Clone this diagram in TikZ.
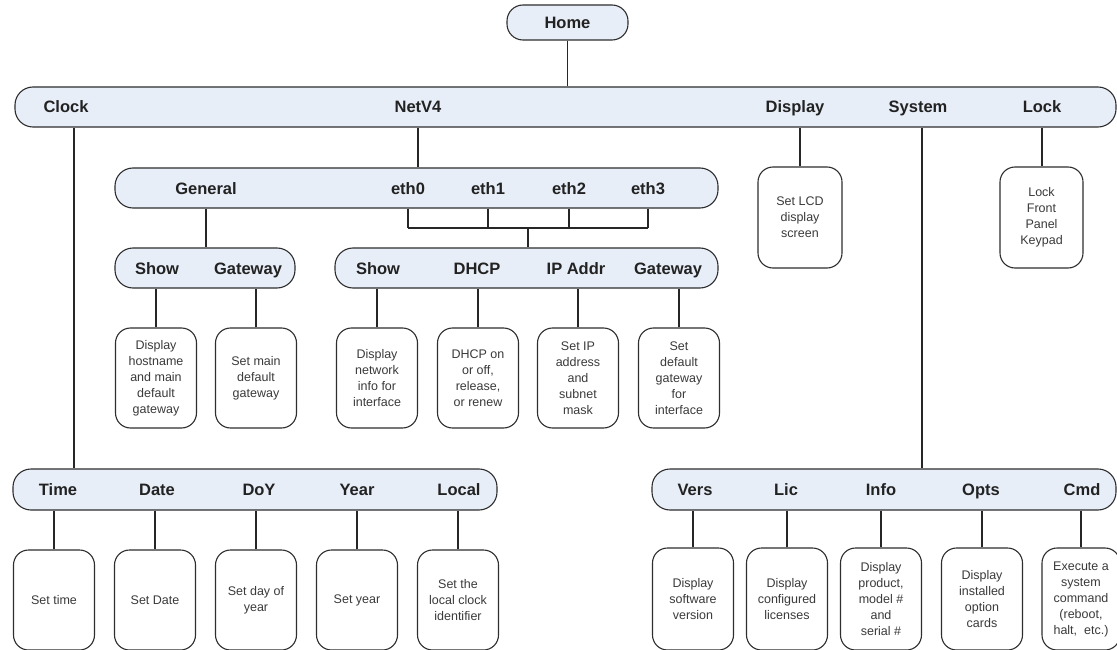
\documentclass[tikz,border=0pt]{standalone}
\usepackage{fontspec}
\setmainfont{Liberation Sans}
\definecolor{barfill}{HTML}{E8EEF8}
\definecolor{linegray}{HTML}{2E2E2E}
\definecolor{labeltext}{HTML}{222222}
\definecolor{leaftext}{HTML}{3A3A3A}
\tikzset{
  bar/.style={draw=linegray, fill=barfill, rounded corners=18pt, line width=1.1pt, inner sep=0pt},
  lbl/.style={font=\fontsize{16.5}{18}\selectfont\bfseries, text=labeltext, inner sep=0pt, anchor=base},
  leaf/.style={draw=linegray, rounded corners=15pt, line width=1.1pt, minimum width=81pt, minimum height=100pt, align=center, font=\fontsize{12.5}{16}\selectfont, text=leaftext, inner sep=2pt},
  conn/.style={draw=black!85, line width=1.1pt},
}
\begin{document}
\begin{tikzpicture}[x=1pt,y=-1pt]
\clip (0,0) rectangle (1117,650);
\fill[white] (0,0) rectangle (1117,650);

% Home
\node[bar, rounded corners=16pt, minimum width=121pt, minimum height=35pt] (home) at (567.5,22.5) {};
\node[lbl] (lhome) at (567.5,28.5) {Home};

% main bar
\node[bar, minimum width=1101pt, minimum height=40pt] (main) at (565.5,107) {};
\node[lbl] (lclock) at (66,113) {Clock};
\node[lbl] (lnet) at (418,113) {NetV4};
\node[lbl] (ldisp) at (795,113) {Display};
\node[lbl] (lsys) at (918,113) {System};
\node[lbl] (llock) at (1042,113) {Lock};
\coordinate (cclock) at (74,107);
\coordinate (cnet) at (418,107);
\coordinate (cdisp) at (800,107);
\coordinate (csys) at (922,107);

\draw[conn] (home.south) -- (home.south |- main.north);

% Display and Lock boxes
\node[leaf, minimum width=84pt, minimum height=101pt] (bdisp) at (800,217.5) {Set LCD\\display\\screen};
\node[leaf, minimum width=83pt, minimum height=101pt] (block) at (1041.5,217.5) {Lock\\Front\\Panel\\Keypad};
\draw[conn] (cdisp |- main.south) -- (cdisp |- bdisp.north);
\draw[conn] (llock |- main.south) -- (llock |- block.north);

% NetV4 bar
\node[bar, minimum width=603pt, minimum height=40pt] (gen) at (416.5,188) {};
\node[lbl] (lgen) at (206,194) {General};
\node[lbl] (eth0) at (408,194) {eth0};
\node[lbl] (eth1) at (488,194) {eth1};
\node[lbl] (eth2) at (569,194) {eth2};
\node[lbl] (eth3) at (648,194) {eth3};
\draw[conn] (cnet |- main.south) -- (cnet |- gen.north);

% General sub bar
\node[bar, minimum width=180pt, minimum height=40pt] (sgbar) at (205,268) {};
\node[lbl] (lshow1) at (157,274) {Show};
\node[lbl] (lgw1) at (248,274) {Gateway};
\draw[conn] (lgen |- gen.south) -- (lgen |- sgbar.north);

% interface sub bar
\node[bar, minimum width=383pt, minimum height=40pt] (ifbar) at (526.5,268) {};
\node[lbl] (lshow2) at (378,274) {Show};
\node[lbl] (ldhcp) at (477,274) {DHCP};
\node[lbl] (lip) at (576,274) {IP Addr};
\node[lbl] (lgw2) at (668,274) {Gateway};
\coordinate (jn) at (528,228);
\draw[conn] (eth0 |- gen.south) -- (eth0 |- jn);
\draw[conn] (eth1 |- gen.south) -- (eth1 |- jn);
\draw[conn] (eth2 |- gen.south) -- (eth2 |- jn);
\draw[conn] (eth3 |- gen.south) -- (eth3 |- jn);
\draw[conn] (eth0 |- jn) -- (eth3 |- jn);
\draw[conn] (jn) -- (jn |- ifbar.north);

% General leaves
\node[leaf] (g1) at (156,378) {Display\\hostname\\and main\\default\\gateway};
\node[leaf] (g2) at (256,378) {Set main\\default\\gateway};
\draw[conn] (g1.north) -- (g1.north |- sgbar.south);
\draw[conn] (g2.north) -- (g2.north |- sgbar.south);

% interface leaves
\node[leaf] (i1) at (377,378) {Display\\network\\info for\\interface};
\node[leaf] (i2) at (478,378) {DHCP on\\or off,\\release,\\or renew};
\node[leaf] (i3) at (578,378) {Set IP\\address\\and\\subnet\\mask};
\node[leaf] (i4) at (679,378) {Set\\default\\gateway\\for\\interface};
\foreach \b in {i1,i2,i3,i4} \draw[conn] (\b.north) -- (\b.north |- ifbar.south);

% Clock bar
\node[bar, minimum width=484pt, minimum height=41pt] (tbar) at (255,489.5) {};
\node[lbl] (ltime) at (58,495.5) {Time};
\node[lbl] (ldate) at (157,495.5) {Date};
\node[lbl] (ldoy) at (259,495.5) {DoY};
\node[lbl] (lyear) at (357,495.5) {Year};
\node[lbl] (llocal) at (459,495.5) {Local};
\draw[conn] (cclock |- main.south) -- (cclock |- tbar.north);

\node[leaf] (t1) at (54,600) {Set time};
\node[leaf] (t2) at (155,600) {Set Date};
\node[leaf] (t3) at (256,600) {Set day of\\year};
\node[leaf] (t4) at (357,600) {Set year};
\node[leaf] (t5) at (458,600) {Set the\\local clock\\identifier};
\foreach \b in {t1,t2,t3,t4,t5} \draw[conn] (\b.north) -- (\b.north |- tbar.south);

% System bar
\node[bar, minimum width=464pt, minimum height=41pt] (sbar) at (884,489.5) {};
\node[lbl] (lvers) at (695,495.5) {Vers};
\node[lbl] (llic) at (786,495.5) {Lic};
\node[lbl] (linfo) at (881,495.5) {Info};
\node[lbl] (lopts) at (981,495.5) {Opts};
\node[lbl] (lcmd) at (1082,495.5) {Cmd};
\draw[conn] (csys |- main.south) -- (csys |- sbar.north);

\node[leaf, minimum height=102pt] (s1) at (693,599) {Display\\software\\version};
\node[leaf, minimum height=102pt] (s2) at (787,599) {Display\\configured\\licenses};
\node[leaf, minimum height=102pt] (s3) at (881,599) {Display\\product,\\model \#\\and\\serial \#};
\node[leaf, minimum height=102pt] (s4) at (982,599) {Display\\installed\\option\\cards};
\node[leaf, minimum height=102pt, minimum width=78pt] (s5) at (1081,599) {Execute a\\system\\command\\(reboot,\\halt,\ \ etc.)};
\foreach \b in {s1,s2,s3,s4,s5} \draw[conn] (\b.north) -- (\b.north |- sbar.south);
\end{tikzpicture}
\end{document}
